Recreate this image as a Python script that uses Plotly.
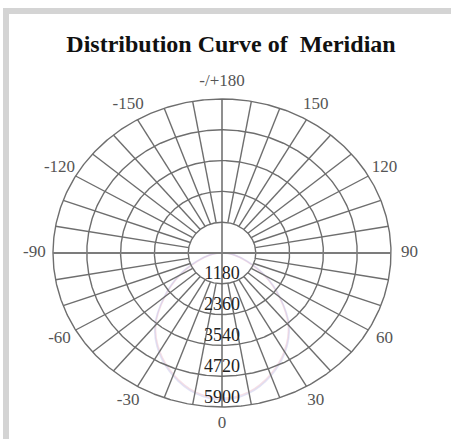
import numpy as np
import plotly.graph_objects as go

# ---------------- data ----------------
title_text = "Distribution Curve of  Meridian"
ring_values = [1180, 2360, 3540, 4720, 5900]
ring_labels = ["1180", "2360", "3540", "4720", "5900"]
angle_ticks = [-150, -120, -90, -60, -30, 0, 30, 60, 90, 120, 150, 180]
angle_tick_labels = ["-150", "-120", "-90", "-60", "-30", "0", "30", "60", "90", "120", "150", "-/+180"]
spoke_step = 10

curve_angles = [-90, -80, -70, -60, -50, -40, -30, -20, -10, 0, 10, 20, 30, 40, 50, 60, 70, 80, 90]
c0_c180 = [100, 400, 900, 1700, 2600, 3600, 4350, 4950, 5400, 5560, 5400, 4950, 4350, 3600, 2600, 1700, 900, 400, 100]
c90_c270 = [150, 450, 950, 1750, 2650, 3650, 4400, 5000, 5450, 5620, 5450, 5000, 4400, 3650, 2650, 1750, 950, 450, 150]

# ---------------- geometry ----------------
W, H = 451, 439
cx_px, cy_px = 222, 253          # centre of the diagram in pixels
rx_px, ry_px = 169, 154          # outer ring radii in pixels
rmax = ring_values[-1]
sx = rx_px / rmax
sy = ry_px / rmax
x_range = [-cx_px / sx, (W - cx_px) / sx]
y_range = [-(H - cy_px) / sy, cy_px / sy]


def to_xy(r, deg):
    t = np.radians(np.asarray(deg, dtype=float))
    r = np.asarray(r, dtype=float)
    return r * np.sin(t), -r * np.cos(t)


grid_color = "#6e6e6e"
fig = go.Figure()

# distribution curves (very faint)
for vals, col, name in [(c0_c180, "rgba(232,185,200,0.45)", "C0-C180"),
                        (c90_c270, "rgba(190,190,230,0.45)", "C90-C270")]:
    x, y = to_xy(vals, curve_angles)
    fig.add_trace(go.Scatter(x=x, y=y, mode="lines", name=name,
                             line=dict(color=col, width=1.5, shape="spline"),
                             hoverinfo="skip", showlegend=False))

# rings
theta_fine = np.linspace(-180, 180, 721)
rx_all, ry_all = [], []
for rv in ring_values:
    x, y = to_xy(np.full_like(theta_fine, rv), theta_fine)
    rx_all += list(x) + [None]
    ry_all += list(y) + [None]
fig.add_trace(go.Scatter(x=rx_all, y=ry_all, mode="lines",
                         line=dict(color=grid_color, width=1.4),
                         hoverinfo="skip", showlegend=False))

# spokes
sxs, sys_ = [], []
for a in range(-170, 181, spoke_step):
    if a % 90 == 0:
        continue
    x, y = to_xy([ring_values[0], rmax], [a, a])
    sxs += list(x) + [None]
    sys_ += list(y) + [None]
fig.add_trace(go.Scatter(x=sxs, y=sys_, mode="lines",
                         line=dict(color=grid_color, width=1.4),
                         hoverinfo="skip", showlegend=False))
# main axes through centre
for a in (0, 90):
    x, y = to_xy([rmax, rmax], [a, a + 180])
    fig.add_trace(go.Scatter(x=x, y=y, mode="lines",
                             line=dict(color="#7c7c7c" if a == 90 else "#6a6a6a",
                                       width=2.0 if a == 90 else 1.5),
                             hoverinfo="skip", showlegend=False))

# angle labels
lx, ly = to_xy(np.full(len(angle_ticks), rmax * 1.11), angle_ticks)
fig.add_trace(go.Scatter(x=lx, y=ly, mode="text", text=angle_tick_labels,
                         textposition="middle center",
                         textfont=dict(family="Liberation Serif", size=17, color="#555555"),
                         hoverinfo="skip", showlegend=False))

# radial labels along 0 direction
rlx, rly = to_xy(ring_values, [0] * len(ring_values))
fig.add_trace(go.Scatter(x=rlx, y=rly, mode="text", text=ring_labels,
                         textposition="top center",
                         textfont=dict(family="Liberation Serif", size=18, color="#222222"),
                         hoverinfo="skip", showlegend=False))

# frame bands
band = "#d4d4d4"
shapes = [
    dict(type="rect", xref="paper", yref="paper", x0=3 / W, x1=1.0, y0=1 - 14 / H, y1=1 - 8 / H,
         fillcolor=band, line=dict(width=0), layer="below"),
    dict(type="rect", xref="paper", yref="paper", x0=3 / W, x1=9 / W, y0=0, y1=1 - 8 / H,
         fillcolor=band, line=dict(width=0), layer="below"),
]

fig.update_layout(
    width=W, height=H, autosize=False,
    margin=dict(l=0, r=0, t=0, b=0),
    paper_bgcolor="white", plot_bgcolor="white",
    xaxis=dict(range=x_range, visible=False, fixedrange=True),
    yaxis=dict(range=y_range, visible=False, fixedrange=True),
    shapes=shapes,
    title=dict(text=title_text, x=231 / W, xanchor="center", y=1 - 44 / H, yanchor="middle",
               font=dict(family="Liberation Serif", size=24, color="#111111", weight="bold")),
    showlegend=False,
)

fig.write_html("out.html", config={"displayModeBar": False},
               post_script="document.body.style.margin='0';document.body.style.overflow='hidden';")
